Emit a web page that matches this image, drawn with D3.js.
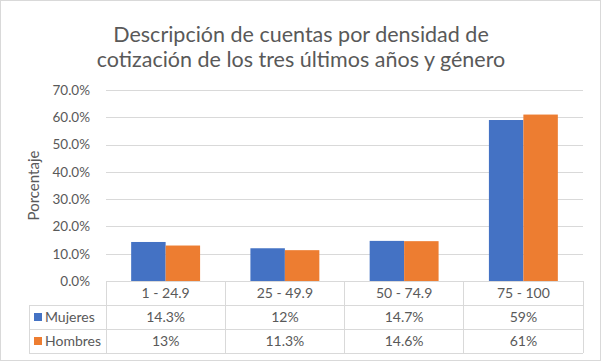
<!DOCTYPE html>
<html>
<head>
<meta charset="utf-8">
<script src="https://cdn.jsdelivr.net/npm/d3@7"></script>
<style>
  body { margin: 0; background: #fff; }
  text { font-family: Lato, "Open Sans", sans-serif; fill: #595959; }
</style>
</head>
<body>
<svg id="chart" width="601" height="361"></svg>
<script>
// data
const categories = ["1 - 24.9", "25 - 49.9", "50 - 74.9", "75 - 100"];
const seriesNames = ["Mujeres", "Hombres"];
const mujeres = [14.3, 12, 14.7, 59];
const hombres = [13, 11.3, 14.6, 61];
const mujeresLabels = ["14.3%", "12%", "14.7%", "59%"];
const hombresLabels = ["13%", "11.3%", "14.6%", "61%"];
const yTicks = [0, 10, 20, 30, 40, 50, 60, 70];
const colors = ["#4472C4", "#ED7D31"];

const svg = d3.select('#chart');
const width = +svg.attr('width');
const height = +svg.attr('height');
const margin = {top: 90, right: 18, bottom: 80, left: 106};
const plotBottom = 281;
const plotRight = width - margin.right;

// outer border
svg.append('rect')
  .attr('x', 0.5).attr('y', 0.5)
  .attr('width', width - 1).attr('height', height - 1)
  .attr('fill', 'none').attr('stroke', '#d9d9d9');

// title
const title = svg.append('text')
  .attr('text-anchor', 'middle')
  .attr('font-size', 21.5);
title.append('tspan').attr('x', 301).attr('y', 42).text('Descripción  de cuentas por densidad  de');
title.append('tspan').attr('x', 301).attr('y', 67).text('cotización  de los tres últimos  años y género');

const xScale = d3.scaleBand()
  .domain(categories)
  .range([margin.left, plotRight]);
const x2 = d3.scaleBand()
  .domain(seriesNames)
  .range([0, xScale.bandwidth()])
  .paddingOuter(0.73);
const yScale = d3.scaleLinear()
  .domain([0, 70])
  .range([plotBottom, margin.top]);

// gridlines
svg.append('g')
  .selectAll('line')
  .data(yTicks.slice(1))
  .enter()
  .append('line')
  .attr('x1', margin.left).attr('x2', plotRight)
  .attr('y1', d => Math.round(yScale(d)) + 0.5)
  .attr('y2', d => Math.round(yScale(d)) + 0.5)
  .attr('stroke', '#d9d9d9');

// y axis labels
const yAxis = svg.append('g')
  .attr('transform', `translate(${margin.left - 13},0)`)
  .call(d3.axisLeft(yScale).tickValues(yTicks).tickFormat(d => d.toFixed(1) + '%').tickSize(0));
yAxis.select('.domain').remove();
yAxis.selectAll('text').attr('font-size', 13.5).attr('fill', '#595959')
  .style('font-family', 'Lato, "Open Sans", sans-serif');

// y title
svg.append('text')
  .attr('transform', `translate(39,${(margin.top + plotBottom) / 2}) rotate(-90)`)
  .attr('text-anchor', 'middle')
  .attr('font-size', 15)
  .text('Porcentaje');

// bars
const rows = categories.map((c, i) => ({cat: c, vals: [mujeres[i], hombres[i]]}));
const groups = svg.append('g')
  .selectAll('g')
  .data(rows)
  .enter()
  .append('g')
  .attr('transform', d => `translate(${xScale(d.cat)},0)`);
groups.selectAll('rect')
  .data(d => d.vals.map((v, j) => ({name: seriesNames[j], v: v, j: j})))
  .enter()
  .append('rect')
  .attr('x', d => x2(d.name))
  .attr('y', d => yScale(d.v))
  .attr('width', x2.bandwidth())
  .attr('height', d => plotBottom - yScale(d.v))
  .attr('fill', d => colors[d.j]);

// data table
const rowH = 24;
const tableLeft = 29;
const grid = svg.append('g').attr('stroke', '#d9d9d9').attr('shape-rendering', 'crispEdges');
// horizontal lines
grid.append('line').attr('x1', margin.left).attr('x2', plotRight)
  .attr('y1', plotBottom).attr('y2', plotBottom);
[1, 2, 3].forEach(r => {
  grid.append('line').attr('x1', tableLeft).attr('x2', plotRight)
    .attr('y1', plotBottom + r * rowH).attr('y2', plotBottom + r * rowH);
});
// vertical lines
xScale.domain().concat(['end']).forEach(c => {
  const x = c === 'end' ? plotRight : xScale(c);
  grid.append('line').attr('x1', x).attr('x2', x)
    .attr('y1', plotBottom).attr('y2', plotBottom + 3 * rowH);
});
grid.append('line').attr('x1', tableLeft).attr('x2', tableLeft)
  .attr('y1', plotBottom + rowH).attr('y2', plotBottom + 3 * rowH);

// category labels
svg.append('g')
  .selectAll('text')
  .data(categories)
  .enter()
  .append('text')
  .attr('x', d => xScale(d) + xScale.bandwidth() / 2)
  .attr('y', plotBottom + rowH / 2 + 5)
  .attr('text-anchor', 'middle')
  .attr('font-size', 14)
  .text(d => d);

// series rows
[mujeresLabels, hombresLabels].forEach((labels, r) => {
  const yc = plotBottom + (r + 1) * rowH + rowH / 2;
  svg.append('rect')
    .attr('x', 34).attr('y', yc - 4)
    .attr('width', 8).attr('height', 8)
    .attr('fill', colors[r]);
  svg.append('text')
    .attr('x', 45).attr('y', yc + 5)
    .attr('font-size', 14)
    .text(seriesNames[r]);
  svg.append('g')
    .selectAll('text')
    .data(labels)
    .enter()
    .append('text')
    .attr('x', (d, i) => xScale(categories[i]) + xScale.bandwidth() / 2)
    .attr('y', yc + 5)
    .attr('text-anchor', 'middle')
    .attr('font-size', 14)
    .text(d => d);
});
</script>
</body>
</html>
